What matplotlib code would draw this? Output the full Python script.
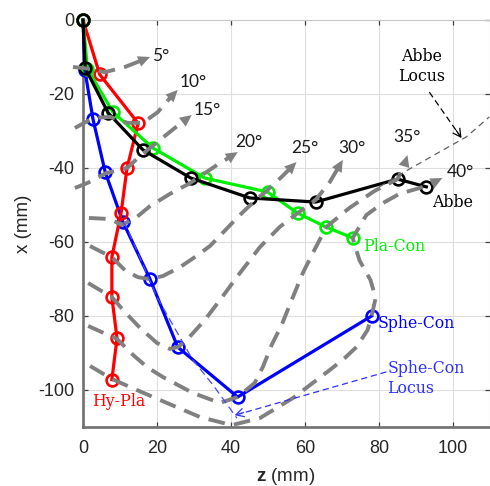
import matplotlib
matplotlib.use("Agg")
import matplotlib.pyplot as plt

plt.rcParams['axes.unicode_minus'] = False
plt.rcParams['mathtext.fontset'] = 'custom'
plt.rcParams['mathtext.bf'] = 'Liberation Sans:bold'
plt.rcParams['mathtext.rm'] = 'Liberation Sans'
plt.rcParams['font.family'] = 'Liberation Sans'

# Focal points (z, x in mm) for scan angles 0°, 5°, ..., 40°
abbe_z = [0, 0.6, 6.8, 16.2, 29.1, 45.1, 62.9, 85.0, 92.8]
abbe_x = [0, -13.0, -25.1, -35.1, -42.7, -48.1, -49.2, -43.0, -45.1]
placon_z = [0, 1.2, 8.1, 18.9, 32.9, 49.9, 58.0, 65.8, 72.9]
placon_x = [0, -13.3, -24.9, -34.6, -42.7, -46.5, -52.2, -56.0, -58.9]
hypla_z = [0, 4.5, 14.9, 11.9, 10.3, 7.8, 7.8, 9.2, 7.8]
hypla_x = [0, -14.7, -27.9, -40.0, -52.1, -64.1, -74.9, -86.0, -97.2]
sphecon_z = [0, 0.5, 2.7, 6.0, 10.8, 18.1, 25.6, 41.8, 78.0]
sphecon_x = [0, -13.5, -26.8, -41.1, -54.6, -70.0, -88.4, -101.9, -80.0]

# Focal-point paths for each scan angle (last entry is the arrow tip)
path05_z = [-2.7, 1.9, 5.9, 11.3, 15.4, 18.1]
path05_x = [-12.7, -13.2, -14.1, -12.7, -11.1, -10.0]
path10_z = [-2.2, 2.7, 7.3, 12.1, 16.2, 20.2, 23.5, 25.6]
path10_x = [-29.2, -26.5, -26.2, -27.8, -27.8, -24.9, -21.1, -18.9]
path15_z = [-2.2, 1.1, 6.2, 11.9, 15.4, 20.8, 24.8, 27.0, 29.4]
path15_x = [-45.4, -44.1, -41.4, -40.0, -36.8, -32.4, -29.2, -27.5, -25.7]
path20_z = [1.6, 7.3, 10.5, 14.6, 18.1, 23.5, 28.9, 36.2, 39.3, 41.8]
path20_x = [-53.5, -53.8, -55.4, -53.2, -50.3, -47.0, -44.1, -39.2, -37.3, -35.7]
path25_z = [1.9, 7.8, 11.3, 14.8, 17.8, 21.6, 26.2, 30.2, 34.3, 37.5, 42.4,
            46.4, 49.9, 53.9, 55.6, 57.7]
path25_x = [-61.1, -64.1, -67.6, -69.5, -70.0, -69.2, -66.8, -64.1, -61.1,
            -57.8, -52.7, -48.9, -45.9, -42.2, -40.5, -38.4]
path30_z = [1.4, 7.8, 11.3, 15.4, 20.0, 23.5, 25.6, 28.3, 32.9, 37.0, 42.4,
            47.8, 53.2, 58.0, 62.9, 66.7, 68.7, 70.2]
path30_x = [-71.1, -74.9, -78.9, -83.2, -87.3, -88.9, -88.4, -86.2, -81.1,
            -75.7, -68.4, -61.4, -55.9, -52.2, -48.6, -43.8, -40.4, -37.8]
path35_z = [1.4, 9.2, 13.5, 17.3, 21.6, 29.7, 37.0, 41.8, 46.4, 48.6, 51.0,
            53.7, 56.4, 59.4, 62.1, 65.8, 72.0, 78.8, 85.0, 86.8, 87.7]
path35_x = [-82.7, -86.2, -90.5, -93.8, -96.5, -100.8, -103.5, -101.9, -98.1,
            -93.8, -87.8, -82.4, -75.7, -68.4, -63.0, -55.9, -50.8, -46.2,
            -43.0, -39.4, -36.5]
path40_z = [1.9, 7.8, 12.7, 20.8, 31.6, 40.2, 47.8, 56.7, 66.7, 70.7, 73.9,
            76.9, 78.0, 79.1, 77.7, 74.7, 72.9, 76.6, 81.0, 85.5, 91.0, 94.4,
            97.1]
path40_x = [-93.5, -97.0, -99.2, -102.7, -107.3, -109.5, -107.6, -102.2,
            -94.6, -91.4, -88.4, -83.8, -80.0, -75.1, -70.3, -64.9, -58.9,
            -52.7, -49.5, -47.0, -45.4, -44.1, -42.7]

angle_labels = ['5°', '10°', '15°', '20°', '25°', '30°', '35°', '40°']
angle_label_z = [21.1, 29.7, 33.7, 44.8, 59.9, 72.6, 87.7, 102.0]
angle_label_x = [-9.7, -16.8, -24.3, -33.0, -34.6, -34.6, -31.6, -41.1]

# Locus curves
abbe_locus_z = [80.1, 88.2, 96.3, 103.6, 109.8]
abbe_locus_x = [-45.1, -40.3, -35.7, -31.6, -26.2]
sphecon_locus_z = [10.8, 11.9, 20.0, 29.7, 35.1, 41.6]
sphecon_locus_x = [-54.6, -56.2, -74.9, -91.9, -98.6, -107.6]

xticks = [0, 20, 40, 60, 80, 100]
yticks = [0, -20, -40, -60, -80, -100]

fig = plt.figure(figsize=(4.9, 4.86), dpi=100)
ax = fig.add_axes([83 / 490, 59 / 486, 407 / 490, 407 / 486])
ax.set_xlim(0, 110)
ax.set_ylim(-110, 0)
ax.set_xticks(xticks)
ax.set_yticks(yticks)
ax.grid(True, color='#dedede', lw=0.8)
ax.set_axisbelow(True)
ax.tick_params(direction='in', length=3.5, width=0.9, color='#404040',
               labelsize=13, labelcolor='#262626', top=True, right=True)
ax.tick_params(axis='x', pad=9)
ax.tick_params(axis='y', pad=6)
for side in ('left', 'bottom'):
    ax.spines[side].set_color('#707070')
    ax.spines[side].set_linewidth(1.9)
for side in ('top', 'right'):
    ax.spines[side].set_color('#c8c8c8')
    ax.spines[side].set_linewidth(0.8)

series_kw = dict(lw=2.3, marker='o', ms=8.5, mfc='none', mew=1.9, clip_on=False,
                 zorder=3)
ax.plot(sphecon_z, sphecon_x, color='#0000ff', **series_kw)
ax.plot(hypla_z, hypla_x, color='#ff0000', **series_kw)
ax.plot(placon_z, placon_x, color='#00ee00', **series_kw)
ax.plot(abbe_z, abbe_x, color='black', **series_kw)

gray = '#808080'
paths = [(path05_z, path05_x), (path10_z, path10_x), (path15_z, path15_x),
         (path20_z, path20_x), (path25_z, path25_x), (path30_z, path30_x),
         (path35_z, path35_x), (path40_z, path40_x)]
for pz, px in paths:
    ax.plot(pz[:-1], px[:-1], color=gray, lw=2.8, ls=(0, (4.3, 2.4)),
            clip_on=False, zorder=4, solid_capstyle='butt', dash_capstyle='butt')
    ax.annotate('', xy=(pz[-1], px[-1]), xytext=(pz[-2], px[-2]),
                arrowprops=dict(arrowstyle='-|>,head_length=0.85,head_width=0.4',
                                mutation_scale=10, fc=gray, ec='none', lw=0,
                                shrinkA=0, shrinkB=0), zorder=4,
                annotation_clip=False)

for lab, lz, lx in zip(angle_labels, angle_label_z, angle_label_x):
    ax.text(lz, lx, lab, ha='center', va='center', fontsize=12.5,
            family='Lato', color='#1a1a1a', zorder=5)

# Abbe locus and its pointer
ax.plot(abbe_locus_z, abbe_locus_x, color='#606060', lw=0.9,
        ls=(0, (5, 3.5)), zorder=4, clip_on=False)
ax.plot([93.6, 101.6], [-19.5, -30.9], color='black', lw=0.9, ls=(0, (5, 3)),
        zorder=4)
ax.annotate('', xy=(102.3, -31.9), xytext=(100.9, -29.9),
            arrowprops=dict(arrowstyle='->,head_length=0.55,head_width=0.3',
                            mutation_scale=10, color='black', lw=0.9,
                            shrinkA=0, shrinkB=0), zorder=4)

# Sphe-Con locus and its pointer
ax.plot(sphecon_locus_z, sphecon_locus_x, color='#4a4aff', lw=0.9,
        ls=(0, (6, 3.5)), zorder=4)
ax.plot([82.0, 42.2], [-95.1, -106.5], color='#3030ff', lw=0.9,
        ls=(0, (5, 3)), zorder=4)
ax.annotate('', xy=(41.0, -106.8), xytext=(43.4, -106.1),
            arrowprops=dict(arrowstyle='->,head_length=0.55,head_width=0.3',
                            mutation_scale=10, color='#3030ff', lw=0.9,
                            shrinkA=0, shrinkB=0), zorder=4)

serif = 'DejaVu Serif'
ax.text(2.4, -103.2, 'Hy-Pla', color='#ff0000', fontsize=11.3, family=serif,
        ha='left', va='center', zorder=5)
ax.text(79.6, -81.9, 'Sphe-Con', color='#0000ff', fontsize=11.3, family=serif,
        ha='left', va='center', zorder=5)
ax.text(75.6, -61.1, 'Pla-Con', color='#00ee00', fontsize=11.3, family=serif,
        ha='left', va='center', zorder=5)
ax.text(94.4, -49.2, 'Abbe', color='black', fontsize=11.3, family=serif,
        ha='left', va='center', zorder=5)
ax.text(91.5, -12.6, 'Abbe\nLocus', color='black', fontsize=11.3, family=serif,
        ha='center', va='center', linespacing=1.25, zorder=5)
ax.text(82.3, -96.9, 'Sphe-Con\nLocus', color='#3030ff', fontsize=11.3,
        family=serif, ha='left', va='center', linespacing=1.25, zorder=5)

fig.text(286 / 490, 1 - 476 / 486, r'$\mathbf{z}$ (mm)', ha='center',
         va='center', fontsize=13.5, color='#262626')
fig.text(23 / 490, 1 - 223.5 / 486, 'x (mm)', ha='center', va='center',
         rotation=90, fontsize=13.5, color='#262626')

fig.savefig('out.png', dpi=100)
